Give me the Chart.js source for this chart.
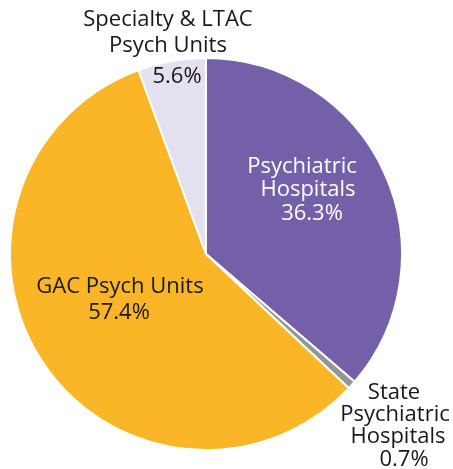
<!DOCTYPE html>
<html>
<head>
<meta charset="utf-8">
<script src="https://cdn.jsdelivr.net/npm/chart.js@4.4.1/dist/chart.umd.min.js"></script>
<style>
  html, body { margin: 0; padding: 0; background: #fff; }
  #myChart { display: block; }
</style>
</head>
<body>
<canvas id="myChart" width="453" height="469"></canvas>
<script>
// data
const categories = ['Psychiatric Hospitals', 'State Psychiatric Hospitals', 'GAC Psych Units', 'Specialty & LTAC Psych Units'];
const shares = [36.3, 0.7, 57.4, 5.6];
const sliceColors = ['#7460a8', '#939598', '#fbb627', '#e3e0ef'];

// label text, split into lines (the % line is added from shares)
const labelLines = [
  ['Psychiatric', 'Hospitals'],
  ['State', 'Psychiatric', 'Hospitals'],
  ['GAC Psych Units'],
  ['Specialty & LTAC', 'Psych Units']
];
const labelColors = ['#ffffff', '#1a1718', '#1a1718', '#1a1718'];
// where each label line sits: [x, y] per line
const labelPos = [
  [[302, 167], [308, 190], [312, 214]],
  [[394, 393], [395, 415], [398, 437], [404, 460]],
  [[120, 287], [119, 313]],
  [[168, 20], [168, 46], [177, 77]]
];

const labelPlugin = {
  id: 'sliceLabels',
  afterDraw(chart) {
    const ctx = chart.ctx;
    ctx.save();
    ctx.font = '22px "Open Sans", sans-serif';
    ctx.textAlign = 'center';
    ctx.textBaseline = 'middle';
    categories.forEach((c, i) => {
      const lines = labelLines[i].concat([shares[i].toFixed(1) + '%']);
      ctx.fillStyle = labelColors[i];
      lines.forEach((t, j) => {
        const p = labelPos[i][j];
        ctx.fillText(t, p[0], p[1]);
      });
    });
    ctx.restore();
  }
};

const ctx = document.getElementById('myChart');
new Chart(ctx, {
  type: 'pie',
  data: {
    labels: categories,
    datasets: [{
      data: shares,
      backgroundColor: sliceColors,
      borderColor: '#ffffff',
      borderWidth: 2,
      hoverOffset: 0
    }]
  },
  options: {
    responsive: false,
    animation: false,
    layout: { padding: { left: 9, right: 50, top: 57, bottom: 18 } },
    plugins: {
      legend: { display: false },
      tooltip: { enabled: false }
    }
  },
  plugins: [labelPlugin]
});
</script>
</body>
</html>
